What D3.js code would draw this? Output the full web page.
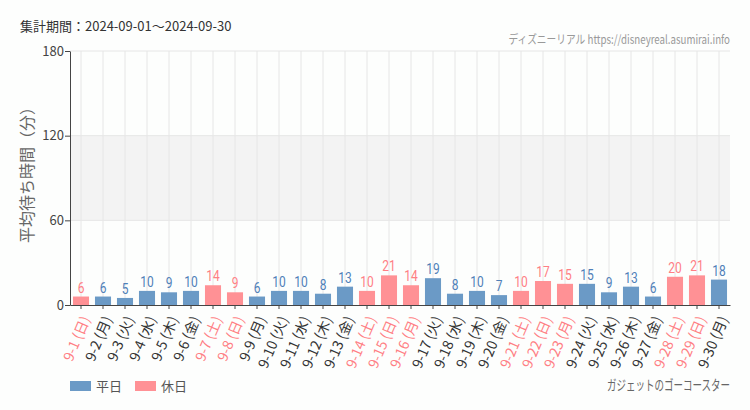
<!DOCTYPE html>
<html><head><meta charset="utf-8">
<script src="https://cdn.jsdelivr.net/npm/d3@7"></script>
<style>
body{margin:0;background:#fdfefd;}
svg{display:block;}
text{font-family:"Noto Sans CJK JP","Noto Sans",sans-serif;}
.cond{font-family:"Roboto","Liberation Sans Narrow","DejaVu Sans Condensed",sans-serif;}
</style></head><body>
<script>
const days = ["9-1","9-2","9-3","9-4","9-5","9-6","9-7","9-8","9-9","9-10","9-11","9-12","9-13","9-14","9-15","9-16","9-17","9-18","9-19","9-20","9-21","9-22","9-23","9-24","9-25","9-26","9-27","9-28","9-29","9-30"];
const weekdays = ["日","月","火","水","木","金","土","日","月","火","水","木","金","土","日","月","火","水","木","金","土","日","月","火","水","木","金","土","日","月"];
const holiday = [1,0,0,0,0,0,1,1,0,0,0,0,0,1,1,1,0,0,0,0,1,1,1,0,0,0,0,1,1,0];
const waits = [6,6,5,10,9,10,14,9,6,10,10,8,13,10,21,14,19,8,10,7,10,17,15,15,9,13,6,20,21,18];
const yTicks = [0,60,120,180];
const legendLabels = ["平日","休日"];

const W=750,H=410;
const m={l:70,r:20,t:51,b:105};
const svg=d3.select("body").append("svg").attr("width",W).attr("height",H);
const x=d3.scaleBand().domain(days).range([m.l,W-m.r]).paddingInner(0.27).paddingOuter(0.135);
const y=d3.scaleLinear().domain([0,180]).range([H-m.b,m.t]);
const blue="#6b9ac6", pink="#ff9195", blueT="#4f80b8", pinkT="#ff7f84";

// band
svg.append("rect").attr("x",m.l).attr("width",W-m.r-m.l).attr("y",y(120)).attr("height",y(60)-y(120)).attr("fill","#f3f3f3");
// vertical grid
svg.append("g").selectAll("line").data(days).join("line")
  .attr("x1",d=>x(d)+x.bandwidth()/2).attr("x2",d=>x(d)+x.bandwidth()/2)
  .attr("y1",y(180)).attr("y2",y(0)).attr("stroke","#e6e6e6");
// horizontal grid
svg.append("g").selectAll("line").data(yTicks.slice(1)).join("line")
  .attr("x1",m.l).attr("x2",W-m.r).attr("y1",d=>y(d)).attr("y2",d=>y(d)).attr("stroke","#e6e6e6");

// bars
svg.append("g").selectAll("rect").data(days).join("rect")
  .attr("x",d=>x(d)).attr("width",x.bandwidth())
  .attr("y",(d,i)=>y(waits[i])).attr("height",(d,i)=>y(0)-y(waits[i]))
  .attr("fill",(d,i)=>holiday[i]?pink:blue);
// value labels
svg.append("g").selectAll("text").data(days).join("text").attr("class","cond")
  .attr("transform",(d,i)=>`translate(${x(d)+x.bandwidth()/2},${y(waits[i])-4}) scale(0.8,1)`)
  .attr("text-anchor","middle").attr("font-size",15)
  .attr("fill",(d,i)=>holiday[i]?pinkT:blueT).text((d,i)=>waits[i]);

// y axis
const ya=svg.append("g").attr("transform",`translate(${m.l},0)`)
  .call(d3.axisLeft(y).tickValues(yTicks).tickSize(5).tickSizeOuter(0));
ya.select(".domain").attr("stroke","#444");
ya.selectAll(".tick line").attr("stroke","#444");
ya.selectAll(".tick text").attr("font-size",13).attr("fill","#444").attr("font-family","Roboto,sans-serif").attr("x",-6);

// x axis
const xa=svg.append("g").attr("transform",`translate(0,${y(0)})`)
  .call(d3.axisBottom(x).tickSize(4).tickSizeOuter(0));
xa.select(".domain").attr("stroke","#444");
xa.selectAll(".tick line").attr("stroke","#444");
xa.selectAll(".tick text").remove();
xa.selectAll(".tick").append("text")
  .attr("transform","translate(5,12) rotate(-67)")
  .attr("text-anchor","end").attr("dy","0.35em").attr("font-size",14)
  .attr("fill",(d,i)=>holiday[i]?pinkT:"#333")
  .text((d,i)=>`${d} (${weekdays[i]})`);

// y title
svg.append("text").attr("transform",`translate(33,171) rotate(-90)`)
  .attr("text-anchor","middle").attr("font-size",16).attr("fill","#666").text("平均待ち時間（分）");

// title
svg.append("text").attr("x",20).attr("y",31).attr("font-size",13).attr("fill","#333").text("集計期間：2024-09-01～2024-09-30");

function condensedRight(txt, xr, yb, size, color, width){
  const t=svg.append("text").attr("font-size",size).attr("fill",color).attr("text-anchor","end").text(txt);
  const w=t.node().getComputedTextLength();
  const s=Math.min(1,width/w);
  t.attr("transform",`translate(${xr},${yb}) scale(${s},1)`);
}
condensedRight("ディズニーリアル https://disneyreal.asumirai.info",730,44,12,"#999",222);
condensedRight("ガジェットのゴーコースター",730,390,14,"#666",123);

// legend
const lg=svg.append("g");
legendLabels.forEach((l,i)=>{
  const lx=70+i*65;
  lg.append("rect").attr("x",lx).attr("y",381).attr("width",21).attr("height",10).attr("fill",i?pink:blue);
  lg.append("text").attr("x",lx+26).attr("y",391).attr("font-size",13).attr("fill","#555").text(l);
});
</script></body></html>
